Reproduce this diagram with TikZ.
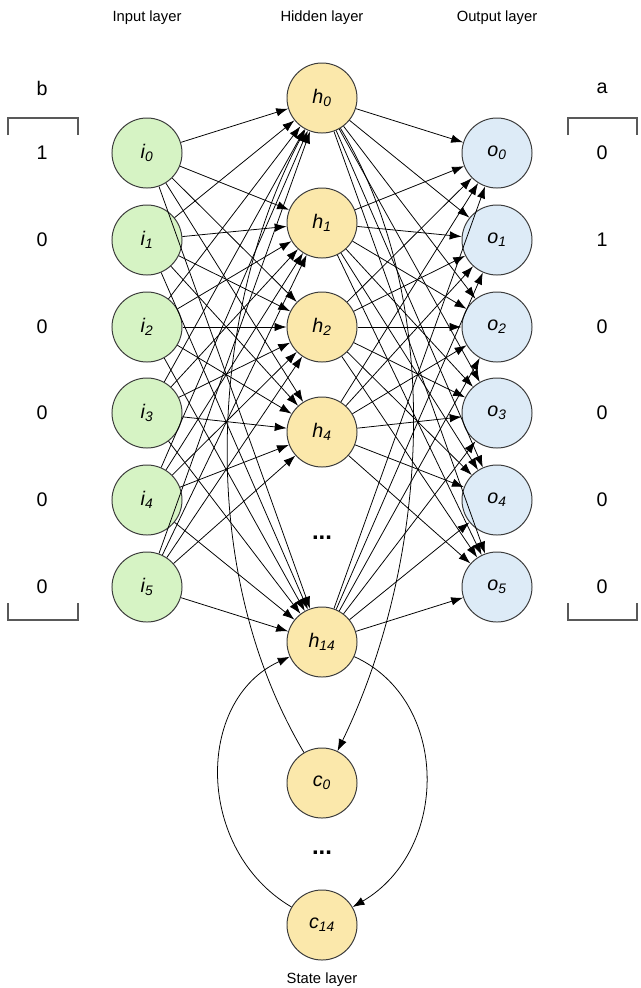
\documentclass[tikz,border=0pt]{standalone}
\usepackage{fontspec}
\setmainfont{Liberation Sans}
\usetikzlibrary{arrows.meta}

\definecolor{ingreen}{HTML}{D6F3C4}
\definecolor{hidyellow}{HTML}{FBE8AB}
\definecolor{outblue}{HTML}{DDEBF7}
\definecolor{rim}{HTML}{3C3C3C}

\tikzset{
  unit/.style={circle,draw=rim,line width=0.7pt,minimum size=1.75cm,inner sep=0pt,
    font=\fontsize{14}{16}\selectfont\itshape},
  link/.style={-{Latex[length=8.5pt,width=6pt]},line width=0.55pt},
  title/.style={font=\fontsize{10.5}{12}\selectfont},
  bit/.style={font=\fontsize{14}{16}\selectfont},
  ellip/.style={font=\fontsize{17}{18}\selectfont\bfseries},
  bracket/.style={draw=black!65,line width=0.8pt}
}

\begin{document}
\begin{tikzpicture}[x=0.025cm,y=-0.025cm]
\useasboundingbox (0,0) rectangle (640,988);

% layer titles
\path
    (147,18) node [title] (intitle) {Input layer}
    (322,18) node [title] (hidtitle) {Hidden layer}
    (497,18) node [title] (outtitle) {Output layer}
    (322,980) node [title] (statetitle) {State layer};

% input and output vectors
\path
    (42,88) node [bit] (bname) {b}
    (602,88) node [bit] (aname) {a};
\draw [bracket] (8,135) -- (8,118) -- (78,118) -- (78,135);
\draw [bracket] (8,603) -- (8,620) -- (78,620) -- (78,603);
\draw [bracket] (568,135) -- (568,118) -- (637,118) -- (637,135);
\draw [bracket] (568,603) -- (568,620) -- (637,620) -- (637,603);
\foreach \n/\y/\b/\a in {0/153/1/0,1/240/0/1,2/327/0/0,3/413/0/0,4/500/0/0,5/587/0/0}
  \path (42,\y) node [bit] (b\n) {\b}
        (602,\y) node [bit] (a\n) {\a};

% units
\foreach \n/\y in {0/153,1/240,2/327,3/413,4/500,5/587} {
  \node [unit,fill=ingreen] (i\n) at (147,\y) {i\textsubscript{\n}};
  \node [unit,fill=outblue] (o\n) at (497,\y) {o\textsubscript{\n}};
}
\foreach \n/\y in {0/98,1/223,2/327,4/432,14/642}
  \node [unit,fill=hidyellow] (h\n) at (322,\y) {h\textsubscript{\n}};
\node [unit,fill=hidyellow] (c0) at (322,783) {c\textsubscript{0}};
\node [unit,fill=hidyellow] (c14) at (322,925) {c\textsubscript{14}};
\node [ellip] (hdots) at (322,538) {...};
\node [ellip] (cdots) at (322,853) {...};

% full connections
\foreach \a in {0,...,5}
  \foreach \b in {0,1,2,4,14} {
    \draw [link] (i\a) -- (h\b);
    \draw [link] (h\b) -- (o\a);
  }

% state loops
\draw [link] (c0) .. controls (190,560) and (215,300) .. (h0);
\draw [link] (h0) .. controls (445,300) and (430,560) .. (c0);
\draw [link] (h14) .. controls (450,700) and (450,850) .. (c14);
\draw [link] (c14) .. controls (195,850) and (195,700) .. (h14);
\end{tikzpicture}
\end{document}
